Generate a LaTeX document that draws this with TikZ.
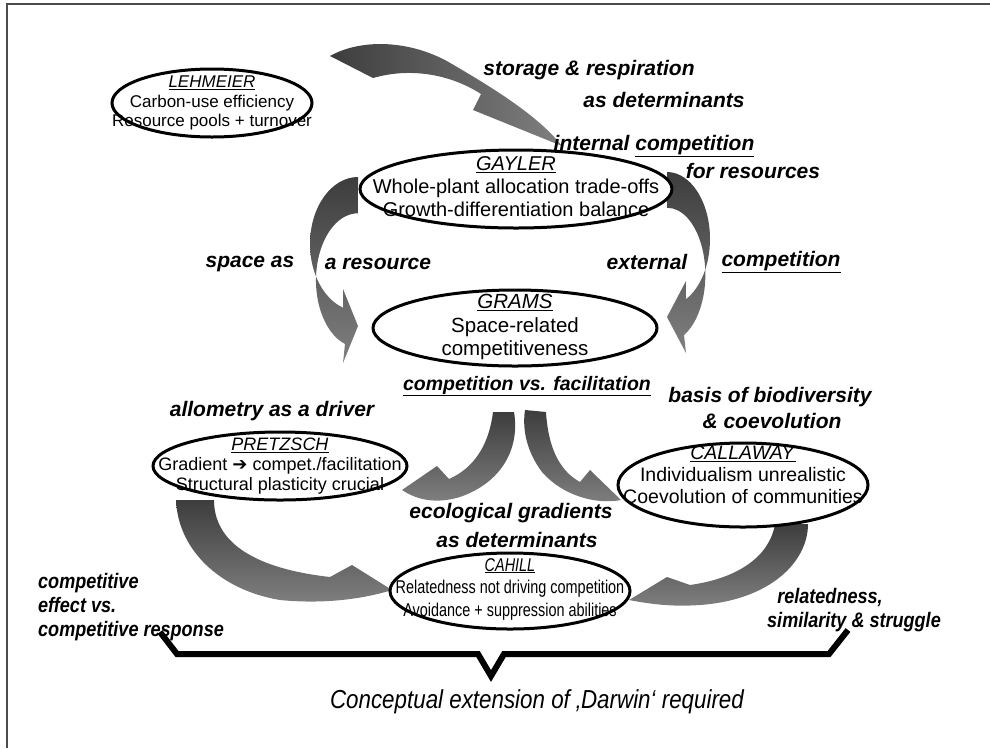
\documentclass[tikz,border=0pt]{standalone}
\usepackage{fontspec}
\setmainfont{Liberation Sans}
\newfontfamily\narrowfont[FakeStretch=0.86]{Liberation Sans}
\newfontfamily\tightfont[FakeStretch=0.78]{Liberation Sans}
\newfontfamily\symfont{DejaVu Sans}

\definecolor{tailgray}{gray}{0.24}
\definecolor{headgray}{gray}{0.5}

\tikzset{
  ring/.style={line width=3pt, fill=white},
  band/.style={top color=tailgray, bottom color=headgray},
  bandlr/.style={left color=tailgray, right color=headgray},
  body/.style={align=center, inner sep=0pt},
  lab/.style={inner sep=0pt, font=\fontsize{21}{25}\selectfont\bfseries\itshape},
  narrowlab/.style={inner sep=0pt, font=\narrowfont\bfseries\itshape\fontsize{21}{24}\selectfont},
}
\newcommand{\who}[1]{\underline{\textit{#1}}}

\begin{document}
\begin{tikzpicture}[x=1pt,y=-1pt]
    \useasboundingbox (0,0) rectangle (990,748);
    \draw[line width=2.2pt, gray!60!black] (7,748) -- (7,4) -- (990,4);

    % curved arrows
    \shade[bandlr] (330,56) .. controls (362,38) and (412,40) .. (452,64) .. controls (500,92) and (540,118) .. (562,146) -- (473,110) -- (481,94) .. controls (455,77) and (415,66) .. (373,78) -- cycle;
    \shade[band] (358,177) arc[start angle=270, end angle=108, x radius=48, y radius=67] -- (343,289) -- (358,326) -- (343,363) -- (345,344) arc[start angle=108, end angle=270, x radius=42, y radius=67] -- cycle;
    \shade[band] (667,172) arc[start angle=-90, end angle=64, x radius=43, y radius=67] -- (686,281) -- (667,317) -- (686,353) -- (684,335) arc[start angle=64, end angle=-90, x radius=38, y radius=67] -- cycle;
    \shade[band] (493,412) -- (514,412) .. controls (520,447) and (503,482) .. (460,497) .. controls (440,503) and (420,502) .. (402,490) -- (437,466) -- (449,479) .. controls (474,468) and (489,445) .. (493,412) -- cycle;
    \shade[band] (525,410) -- (546,412) .. controls (548,445) and (558,470) .. (580,482) -- (590,470) -- (621,500) .. controls (595,505) and (562,495) .. (542,472) .. controls (527,452) and (522,430) .. (525,410) -- cycle;
    \shade[band] (176,500) -- (214,500) .. controls (214,540) and (250,568) .. (330,577) -- (352,565) -- (392,590) .. controls (360,600) and (320,604) .. (280,600) .. controls (220,590) and (178,550) .. (176,500) -- cycle;
    \shade[band] (775,524) -- (808,524) .. controls (808,562) and (770,600) .. (700,605) .. controls (672,607) and (650,604) .. (629,600) -- (667,577) -- (690,585) .. controls (740,578) and (770,555) .. (775,524) -- cycle;

    % ellipses
    \draw[ring] (212,103) ellipse[x radius=100, y radius=34];
    \draw[ring] (516,189) ellipse[x radius=156, y radius=39];
    \draw[ring] (515,328) ellipse[x radius=142, y radius=38];
    \draw[ring] (280,466) ellipse[x radius=127, y radius=34];
    \draw[ring] (743,485) ellipse[x radius=125, y radius=42];
    \draw[ring] (510,591) ellipse[x radius=120, y radius=38];

    \node[body, font=\fontsize{17}{19.5}\selectfont] (lehmeier) at (212,103) {\who{LEHMEIER}\\Carbon-use efficiency\\Resource pools + turnover};
    \node[body, font=\fontsize{20}{23}\selectfont] (gayler) at (516,187) {\who{GAYLER}\\Whole-plant allocation trade-offs\\Growth-differentiation balance};
    \node[body, font=\fontsize{20.5}{23.5}\selectfont] (grams) at (515,327) {\who{GRAMS}\\Space-related\\competitiveness};
    \node[body, font=\fontsize{18}{20}\selectfont] (pretzsch) at (280,466) {\who{PRETZSCH}\\Gradient {\symfont ➔} compet./facilitation\\Structural plasticity crucial};
    \node[body, font=\fontsize{19.5}{22}\selectfont] (callaway) at (743,475) {\who{CALLAWAY}\\Individualism unrealistic\\Coevolution of communities};
    \node[body, font=\tightfont\fontsize{18.5}{22.5}\selectfont] (cahill) at (510,589) {\who{CAHILL}\\Relatedness not driving competition\\Avoidance + suppression abilities};

    % labels
    \node[lab] (storage) at (589,70) {storage \& respiration};
    \node[lab] (asdetA) at (664,100) {as determinants};
    \node[lab] (internal) at (654,146) {internal \underline{competition}};
    \node[lab] (forres) at (753,171) {for resources};
    \node[lab] (spaceas) at (250,264) {space as};
    \node[lab] (aresource) at (378,264) {a resource};
    \node[lab] (external) at (647,262) {external};
    \node[lab] (extcomp) at (781,262) {\underline{competition}};
    \node[lab, font=\fontsize{19.5}{25}\selectfont\bfseries\itshape] (compfac) at (527,386) {\underline{competition vs. facilitation}};
    \node[lab] (allometry) at (272,411) {allometry as a driver};
    \node[lab] (basis) at (770,397) {basis of biodiversity};
    \node[lab] (coevol) at (772,421) {\& coevolution};
    \node[lab] (ecograd) at (511,513) {ecological gradients};
    \node[lab] (asdetB) at (517,540) {as determinants};
    \node[narrowlab, align=left, anchor=west] (compeff) at (38,607) {competitive\\effect vs.\\competitive response};
    \node[narrowlab] (related) at (830,598) {relatedness,};
    \node[narrowlab] (similar) at (854,622) {similarity \& struggle};

    % brace
    \draw[line width=6pt, line join=miter] (160,632) -- (177,654) -- (478,654) -- (491,676) -- (504,654) -- (829,654) -- (848,630);
    \node[inner sep=0pt, font=\narrowfont\itshape\fontsize{26}{30}\selectfont] (darwin) at (537,702) {Conceptual extension of ‚Darwin‘ required};
\end{tikzpicture}
\end{document}
